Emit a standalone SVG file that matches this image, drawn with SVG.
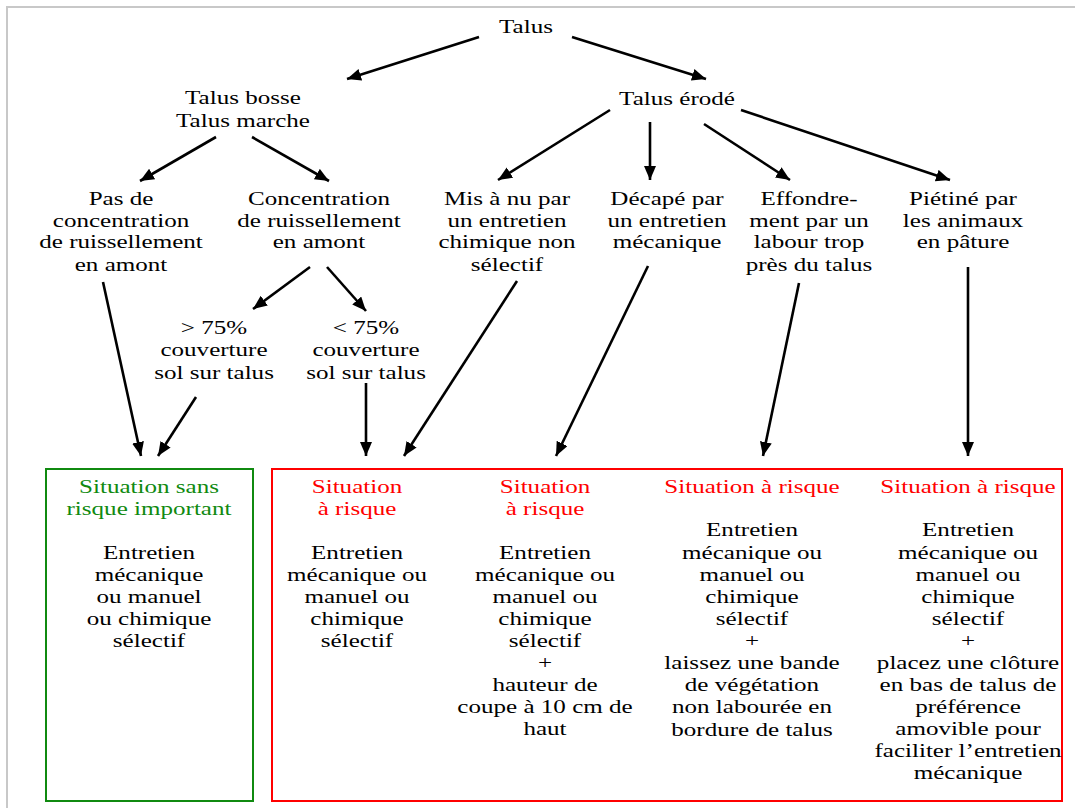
<svg xmlns="http://www.w3.org/2000/svg" width="1075" height="808" viewBox="0 0 1075 808">
<defs>
<style>
.t{font-family:"Liberation Serif","Times New Roman",serif;font-size:19px;text-anchor:middle;fill:#000}
.g{fill:#108a10}
.r{fill:#ff0000}
.c{stroke:#000;stroke-width:2.6;fill:none;marker-end:url(#ah)}
</style>
<marker id="ah" markerUnits="userSpaceOnUse" markerWidth="16" markerHeight="14" refX="14" refY="6" orient="auto">
<path d="M0,0 L14,6 L0,12 z" fill="#000"/>
</marker>
</defs>
<rect width="1075" height="808" fill="#fff"/>
<path d="M6,7 H1075 M7,6 V808" stroke="#c8c8c8" stroke-width="2" fill="none"/>

<g id="connectors">
<line class="c" x1="479" y1="37" x2="347" y2="79"/>
<line class="c" x1="572" y1="37" x2="706" y2="79"/>
<line class="c" x1="216" y1="137" x2="140" y2="181"/>
<line class="c" x1="252" y1="137" x2="329" y2="181"/>
<line class="c" x1="610" y1="110" x2="498" y2="180"/>
<line class="c" x1="650" y1="122" x2="650" y2="180"/>
<line class="c" x1="704" y1="124" x2="790" y2="180"/>
<line class="c" x1="741" y1="110" x2="950" y2="180"/>
<line class="c" x1="310" y1="267" x2="253" y2="309"/>
<line class="c" x1="327" y1="267" x2="366" y2="311"/>
<line class="c" x1="103" y1="282" x2="141" y2="456"/>
<line class="c" x1="196" y1="397" x2="158" y2="456"/>
<line class="c" x1="366" y1="383" x2="366" y2="456"/>
<line class="c" x1="517" y1="281" x2="404" y2="456"/>
<line class="c" x1="648" y1="266" x2="556" y2="456"/>
<line class="c" x1="799" y1="283" x2="763" y2="456"/>
<line class="c" x1="968" y1="267" x2="968" y2="456"/>
</g>

<g id="n-talus">
<text class="t" transform="translate(526,0) scale(1.32,1)"><tspan x="0" y="33">Talus</tspan></text>
</g>
<g id="n-bosse">
<text class="t" transform="translate(243,0) scale(1.32,1)"><tspan x="0" y="104">Talus bosse</tspan><tspan x="0" y="127">Talus marche</tspan></text>
</g>
<g id="n-erode">
<text class="t" transform="translate(677,0) scale(1.32,1)"><tspan x="0" y="105">Talus érodé</tspan></text>
</g>
<g id="n-pasde">
<text class="t" transform="translate(121,0) scale(1.32,1)"><tspan x="0" y="205">Pas de</tspan><tspan x="0" y="227">concentration</tspan><tspan x="0" y="248">de ruissellement</tspan><tspan x="0" y="271">en amont</tspan></text>
</g>
<g id="n-concentration">
<text class="t" transform="translate(319,0) scale(1.32,1)"><tspan x="0" y="205">Concentration</tspan><tspan x="0" y="227">de ruissellement</tspan><tspan x="0" y="248">en amont</tspan></text>
</g>
<g id="n-misanu">
<text class="t" transform="translate(507,0) scale(1.32,1)"><tspan x="0" y="205">Mis à nu par</tspan><tspan x="0" y="227">un entretien</tspan><tspan x="0" y="248">chimique non</tspan><tspan x="0" y="271">sélectif</tspan></text>
</g>
<g id="n-decape">
<text class="t" transform="translate(667,0) scale(1.32,1)"><tspan x="0" y="205">Décapé par</tspan><tspan x="0" y="227">un entretien</tspan><tspan x="0" y="248">mécanique</tspan></text>
</g>
<g id="n-effondre">
<text class="t" transform="translate(809,0) scale(1.32,1)"><tspan x="0" y="205">Effondre-</tspan><tspan x="0" y="227">ment par un</tspan><tspan x="0" y="248">labour trop</tspan><tspan x="0" y="271">près du talus</tspan></text>
</g>
<g id="n-pietine">
<text class="t" transform="translate(963,0) scale(1.32,1)"><tspan x="0" y="205">Piétiné par</tspan><tspan x="0" y="227">les animaux</tspan><tspan x="0" y="248">en pâture</tspan></text>
</g>
<g id="n-sup75">
<text class="t" transform="translate(214,0) scale(1.32,1)"><tspan x="0" y="334">&gt; 75%</tspan><tspan x="0" y="356">couverture</tspan><tspan x="0" y="379">sol sur talus</tspan></text>
</g>
<g id="n-inf75">
<text class="t" transform="translate(366,0) scale(1.32,1)"><tspan x="0" y="334">&lt; 75%</tspan><tspan x="0" y="356">couverture</tspan><tspan x="0" y="379">sol sur talus</tspan></text>
</g>

<g id="box-sans-risque">
<rect x="46" y="469" width="207" height="332" fill="none" stroke="#108a10" stroke-width="2"/>
<text class="t g" transform="translate(149,0) scale(1.32,1)"><tspan x="0" y="493">Situation sans</tspan><tspan x="0" y="515">risque important</tspan></text>
<text class="t" transform="translate(149,0) scale(1.32,1)"><tspan x="0" y="559">Entretien</tspan><tspan x="0" y="581">mécanique</tspan><tspan x="0" y="603">ou manuel</tspan><tspan x="0" y="625">ou chimique</tspan><tspan x="0" y="647">sélectif</tspan></text>
</g>

<g id="box-risque">
<rect x="272" y="469" width="790" height="332" fill="none" stroke="#ff0000" stroke-width="2"/>
</g>
<g id="risque-1">
<text class="t r" transform="translate(357,0) scale(1.32,1)"><tspan x="0" y="493">Situation</tspan><tspan x="0" y="515">à risque</tspan></text>
<text class="t" transform="translate(357,0) scale(1.32,1)"><tspan x="0" y="559">Entretien</tspan><tspan x="0" y="581">mécanique ou</tspan><tspan x="0" y="603">manuel ou</tspan><tspan x="0" y="625">chimique</tspan><tspan x="0" y="647">sélectif</tspan></text>
</g>
<g id="risque-2">
<text class="t r" transform="translate(545,0) scale(1.32,1)"><tspan x="0" y="493">Situation</tspan><tspan x="0" y="515">à risque</tspan></text>
<text class="t" transform="translate(545,0) scale(1.32,1)"><tspan x="0" y="559">Entretien</tspan><tspan x="0" y="581">mécanique ou</tspan><tspan x="0" y="603">manuel ou</tspan><tspan x="0" y="625">chimique</tspan><tspan x="0" y="647">sélectif</tspan><tspan x="0" y="669">+</tspan><tspan x="0" y="691">hauteur de</tspan><tspan x="0" y="713">coupe à 10 cm de</tspan><tspan x="0" y="735">haut</tspan></text>
</g>
<g id="risque-3">
<text class="t r" transform="translate(752,0) scale(1.32,1)"><tspan x="0" y="493">Situation à risque</tspan></text>
<text class="t" transform="translate(752,0) scale(1.32,1)"><tspan x="0" y="536">Entretien</tspan><tspan x="0" y="559">mécanique ou</tspan><tspan x="0" y="581">manuel ou</tspan><tspan x="0" y="603">chimique</tspan><tspan x="0" y="625">sélectif</tspan><tspan x="0" y="647">+</tspan><tspan x="0" y="669">laissez une bande</tspan><tspan x="0" y="691">de végétation</tspan><tspan x="0" y="713">non labourée en</tspan><tspan x="0" y="736">bordure de talus</tspan></text>
</g>
<g id="risque-4">
<text class="t r" transform="translate(968,0) scale(1.32,1)"><tspan x="0" y="493">Situation à risque</tspan></text>
<text class="t" transform="translate(968,0) scale(1.32,1)"><tspan x="0" y="536">Entretien</tspan><tspan x="0" y="559">mécanique ou</tspan><tspan x="0" y="581">manuel ou</tspan><tspan x="0" y="603">chimique</tspan><tspan x="0" y="625">sélectif</tspan><tspan x="0" y="647">+</tspan><tspan x="0" y="669">placez une clôture</tspan><tspan x="0" y="691">en bas de talus de</tspan><tspan x="0" y="713">préférence</tspan><tspan x="0" y="735">amovible pour</tspan><tspan x="0" y="757">faciliter l’entretien</tspan><tspan x="0" y="779">mécanique</tspan></text>
</g>
</svg>
